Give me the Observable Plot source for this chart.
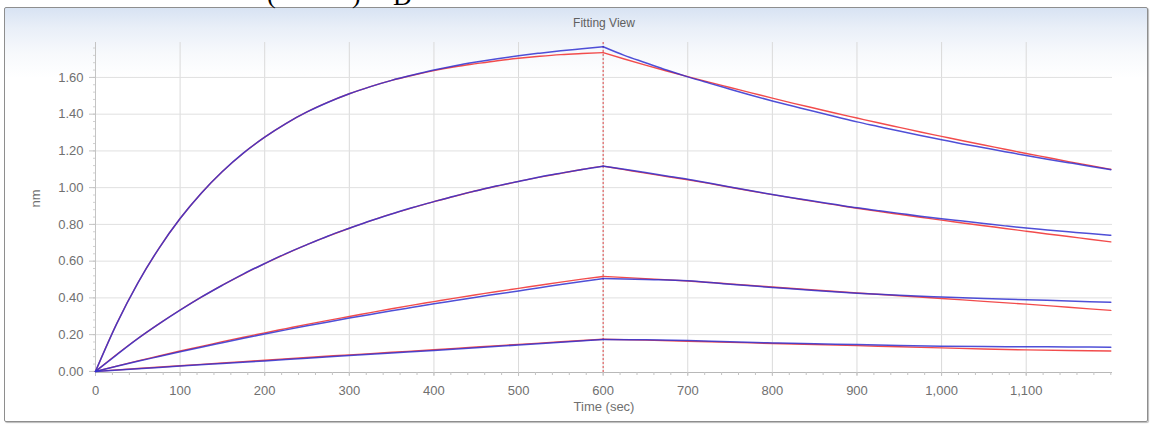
<!DOCTYPE html>
<html>
<head>
<meta charset="utf-8">
<script src="https://cdn.jsdelivr.net/npm/d3@7"></script>
<script src="https://cdn.jsdelivr.net/npm/@observablehq/plot@0.6"></script>
<style>
  html, body { margin: 0; padding: 0; background: #fff; }
  #wrap { position: relative; width: 1151px; height: 426px; overflow: hidden; background: #fff; font-family: "Liberation Sans", Arial, sans-serif; }
  #panel { position: absolute; left: 4px; top: 7px; width: 1142px; height: 413px; border: 1px solid #8e8e8e; border-radius: 2px;
           background: linear-gradient(to bottom, #d8e3f3 0px, #e9eff8 20px, #f7f9fc 45px, #ffffff 70px); box-shadow: 1px 1px 1px #bbb; }
  #chart { position: absolute; left: 0; top: 0; }
  .cut { position: absolute; font-family: "Liberation Serif", "Times New Roman", serif; font-size: 26px; color: #000; line-height: 26px; }
</style>
</head>
<body>
<div id="wrap">
  <div id="panel"></div>
  <span class="cut" style="left:267px; top:-18px;">(</span>
  <span class="cut" style="left:352px; top:-18px;">)</span>
  <span class="cut" style="left:393px; top:-16px;">D</span>
  <div id="chart"></div>
</div>
<script>
// ---- data ----
const assocTime25 = [0,25,50,75,100,125,150,175,200,225,250,275,300,325,350,375,400,425,450,475,500,525,550,575,600];
const dissocTime25 = [600,625,650,675,700,725,750,775,800,825,850,875,900,925,950,975,1000,1025,1050,1075,1100,1125,1150,1175,1200];
const assocTime50 = [0,50,100,150,200,250,300,350,400,450,500,550,600];
const dissocTime50 = [600,650,700,750,800,850,900,950,1000,1050,1100,1150,1200];

// curve 1 (highest concentration)
const fit1Assoc  = [0,0.259,0.481,0.670,0.832,0.970,1.088,1.189,1.275,1.349,1.412,1.465,1.511,1.550,1.584,1.612,1.637,1.658,1.675,1.691,1.704,1.715,1.724,1.730,1.735];
const data1Assoc = [0,0.259,0.481,0.670,0.832,0.970,1.088,1.189,1.275,1.349,1.412,1.465,1.511,1.550,1.584,1.613,1.640,1.664,1.684,1.702,1.718,1.732,1.745,1.756,1.767];
const fit1Dissoc  = [1.735,1.700,1.667,1.635,1.604,1.574,1.545,1.516,1.487,1.459,1.432,1.405,1.379,1.353,1.328,1.303,1.279,1.255,1.232,1.209,1.186,1.164,1.142,1.121,1.100];
const data1Dissoc = [1.767,1.720,1.680,1.640,1.603,1.569,1.536,1.503,1.472,1.443,1.414,1.386,1.358,1.333,1.308,1.284,1.261,1.238,1.217,1.196,1.175,1.155,1.136,1.117,1.098];

// curve 2
const fit2Assoc  = [0,0.092,0.179,0.259,0.334,0.404,0.470,0.530,0.587,0.640,0.690,0.736,0.779,0.819,0.857,0.891,0.924,0.954,0.983,1.009,1.034,1.057,1.078,1.099,1.117];
const data2Assoc = [0,0.090,0.178,0.258,0.333,0.404,0.469,0.531,0.587,0.641,0.690,0.737,0.779,0.820,0.857,0.892,0.924,0.955,0.983,1.010,1.034,1.058,1.079,1.099,1.117];
const fit2Dissoc  = [1.117,1.098,1.079,1.061,1.043,1.023,1.002,0.982,0.962,0.943,0.924,0.906,0.888,0.871,0.855,0.839,0.823,0.808,0.793,0.778,0.763,0.748,0.734,0.719,0.705];
const data2Dissoc = [1.117,1.100,1.082,1.064,1.046,1.025,1.004,0.983,0.963,0.944,0.926,0.908,0.890,0.875,0.860,0.845,0.831,0.818,0.805,0.792,0.780,0.770,0.760,0.750,0.741];

// curve 3
const fit3Assoc  = [0,0.029,0.057,0.084,0.111,0.136,0.162,0.186,0.210,0.233,0.256,0.278,0.299,0.320,0.341,0.361,0.380,0.399,0.417,0.435,0.452,0.469,0.486,0.502,0.517];
const data3Assoc = [0,0.028,0.055,0.081,0.107,0.132,0.156,0.180,0.203,0.226,0.248,0.269,0.290,0.310,0.330,0.349,0.368,0.386,0.404,0.421,0.438,0.455,0.473,0.489,0.505];
const fit3Dissoc  = [0.517,0.505,0.492,0.476,0.459,0.443,0.427,0.412,0.397,0.381,0.366,0.349,0.332];
const data3Dissoc = [0.505,0.500,0.494,0.474,0.457,0.440,0.425,0.414,0.405,0.397,0.390,0.383,0.376];

// curve 4 (lowest concentration)
const fit4Assoc  = [0,0.016,0.031,0.046,0.061,0.076,0.090,0.104,0.118,0.133,0.147,0.161,0.175];
const data4Assoc = [0,0.014,0.029,0.043,0.057,0.072,0.086,0.100,0.114,0.129,0.144,0.159,0.173];
const fit4Dissoc  = [0.175,0.170,0.164,0.158,0.152,0.146,0.140,0.134,0.128,0.122,0.117,0.114,0.111];
const data4Dissoc = [0.173,0.172,0.168,0.161,0.155,0.150,0.146,0.141,0.137,0.135,0.134,0.133,0.132];

const phaseBoundary = [600];
const xTicks = [0,100,200,300,400,500,600,700,800,900,1000,1100];
const yTicks = [0,0.2,0.4,0.6,0.8,1.0,1.2,1.4,1.6];
const titleText = "Fitting View";
const xLabel = "Time (sec)";
const yLabel = "nm";

// ---- build tidy rows ----
const segments = [
  ["c1a", assocTime25, fit1Assoc, data1Assoc],
  ["c1d", dissocTime25, fit1Dissoc, data1Dissoc],
  ["c2a", assocTime25, fit2Assoc, data2Assoc],
  ["c2d", dissocTime25, fit2Dissoc, data2Dissoc],
  ["c3a", assocTime25, fit3Assoc, data3Assoc],
  ["c3d", dissocTime50, fit3Dissoc, data3Dissoc],
  ["c4a", assocTime50, fit4Assoc, data4Assoc],
  ["c4d", dissocTime50, fit4Dissoc, data4Dissoc]
];
const fitRows = [], dataRows = [];
for (const [key, ts, fit, dat] of segments) {
  ts.forEach((t, i) => {
    fitRows.push({key, t, v: fit[i]});
    dataRows.push({key, t, v: dat[i]});
  });
}

const minorX = d3.range(0, 1201, 20);
const minorY = d3.range(0, 1.78, 0.04);

const chart = Plot.plot({
  width: 1151,
  height: 426,
  marginLeft: 95,
  marginRight: 39,
  marginTop: 42,
  marginBottom: 54,
  style: {background: "transparent", fontFamily: "'Liberation Sans', Arial, sans-serif", fontSize: "13px", color: "#666"},
  x: {domain: [0, 1202]},
  y: {domain: [-0.006, 1.79]},
  marks: [
    Plot.gridX(xTicks.slice(1), {stroke: "#dadada", strokeOpacity: 1}),
    Plot.gridY(yTicks.slice(1), {stroke: "#e0e0e0", strokeOpacity: 1}),
    Plot.ruleX([0], {stroke: "#c4c4c4"}),
    Plot.ruleY([-0.006], {stroke: "#b8b8b8"}),
    Plot.axisX(minorX, {tickSize: 3, tickFormat: () => "", stroke: "#c4c4c4", label: null}),
    Plot.axisX(xTicks, {tickSize: 4, tickPadding: 9, tickFormat: d3.format(","), stroke: "#c4c4c4", fill: "#707070", fontSize: 13, label: null}),
    Plot.axisY(minorY, {tickSize: 2, tickFormat: () => "", stroke: "#d0d0d0", label: null}),
    Plot.axisY(yTicks, {tickSize: 6, tickPadding: 6, tickFormat: d3.format(".2f"), stroke: "#c4c4c4", fill: "#707070", fontSize: 13, label: null}),
    Plot.ruleX(phaseBoundary, {stroke: "#e04a4a", strokeDasharray: "2,2", strokeWidth: 1}),
    Plot.line(fitRows, {x: "t", y: "v", z: "key", stroke: "#f24c4c", strokeWidth: 1.4, curve: "monotone-x"}),
    Plot.line(dataRows, {x: "t", y: "v", z: "key", stroke: "#3030d0", strokeWidth: 1.5, strokeOpacity: 0.85, curve: "monotone-x"}),
    Plot.text([titleText], {frameAnchor: "top", dy: -24, fill: "#606060", fontSize: 12}),
    Plot.text([xLabel], {frameAnchor: "bottom", dy: 38, fill: "#707070", fontSize: 13}),
    Plot.text([yLabel], {frameAnchor: "left", dx: -60, rotate: -90, fill: "#707070", fontSize: 13})
  ]
});
document.getElementById("chart").appendChild(chart);
</script>
</body>
</html>
